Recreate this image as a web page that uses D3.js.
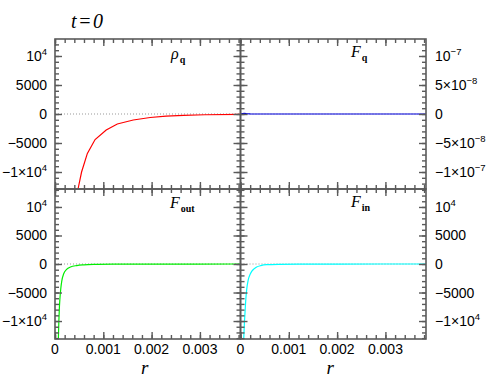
<!DOCTYPE html>
<html>
<head>
<meta charset="utf-8">
<script src="https://cdn.jsdelivr.net/npm/d3@7"></script>
<style>
body{margin:0;background:#fff}
svg text{font-family:"Liberation Sans",Arial,sans-serif;fill:#000}
</style>
</head>
<body>
<svg id="chart" width="503" height="383"></svg>
<script>
//ticks and labels
var xTicks = [0, 0.001, 0.002, 0.003];
var xTickLabels = ["0", "0.001", "0.002", "0.003"];
var yTicks = [-10000, -5000, 0, 5000, 10000];
var yTickLabels = ["\u22121\u00d710^4", "\u22125000", "0", "5000", "10^4"];
var fqTicks = [-1e-7, -5e-8, 0, 5e-8, 1e-7];
var fqTickLabels = ["\u22121\u00d710^\u22127", "\u22125\u00d710^\u22128", "0", "5\u00d710^\u22128", "10^\u22127"];

//profiles (r, value)
var rhoR = [0.00044, 0.00048, 0.00055, 0.00067, 0.00083, 0.00106, 0.00129, 0.00162, 0.00197, 0.0023, 0.00266, 0.0031, 0.00384];
var rhoV = [-16000, -12800, -10000, -6800, -4400, -2760, -1720, -1030, -600, -380, -230, -130, -50];
var fqR = [0, 0.00004, 0.00008, 0.00012, 0.0002, 0.0004, 0.001, 0.002, 0.00384];
var fqV = [0, 8e-10, 1e-9, 6e-10, 2e-10, 0, 0, 0, 0];
var foutR = [0.00006, 0.00007, 0.00008, 0.00009, 0.0001, 0.00012, 0.00014, 0.00018, 0.00024, 0.00032, 0.00045, 0.0006, 0.0008, 0.0012, 0.002, 0.00384];
var foutV = [-17000, -13000, -10000, -7800, -6300, -4300, -3000, -1700, -950, -520, -270, -150, -80, -35, -12, -3];
var finR = [0.00005, 0.00006, 0.00007, 0.00008, 0.000093, 0.00011, 0.000128, 0.000161, 0.0002, 0.000232, 0.00028, 0.000335, 0.00042, 0.000542, 0.0008, 0.0012, 0.002, 0.00384];
var finV = [-20000, -15000, -12500, -10500, -8600, -6200, -4500, -2760, -1800, -1300, -850, -530, -280, -120, -50, -20, -6, -2];

var svg = d3.select("#chart");
var L = 55, M = 240.5, R = 426, T = 39, H = 189, B = 339;
var xMax = 0.00384;
var frameCol = "#5a5a5a";

var panels = [
    {id: "rho", x0: L, x1: M, y0: T, y1: H, r: rhoR, v: rhoV, color: "#ff0000", dom: 12930, ticks: yTicks, labels: yTickLabels, minor: 1000, side: "left", curve: d3.curveLinear,
        name: "\u03c1", sub: "q", nx: 171, ny: 59},
    {id: "fq", x0: M, x1: R, y0: T, y1: H, r: fqR, v: fqV, color: "#0000dd", dom: 1.293e-7, ticks: fqTicks, labels: fqTickLabels, minor: 1e-8, side: "right", curve: d3.curveLinear,
        name: "F", sub: "q", nx: 351, ny: 57},
    {id: "fout", x0: L, x1: M, y0: H, y1: B, r: foutR, v: foutV, color: "#00ee00", dom: 13150, ticks: yTicks, labels: yTickLabels, minor: 1000, side: "left", curve: d3.curveMonotoneX,
        name: "F", sub: "out", nx: 170, ny: 208, bottom: true},
    {id: "fin", x0: M, x1: R, y0: H, y1: B, r: finR, v: finV, color: "#00ffff", dom: 13150, ticks: yTicks, labels: yTickLabels, minor: 1000, side: "right", curve: d3.curveMonotoneX,
        name: "F", sub: "in", nx: 351, ny: 207, bottom: true}
];

//text with ^superscript
function supText(g, str, x, y, anchor){
    var parts = str.split("^");
    var t = g.append("text")
        .attr("x", x).attr("y", y)
        .attr("text-anchor", anchor)
        .style("font-size", "14px");
    t.append("tspan").text(parts[0]);
    if(parts.length > 1){
        t.append("tspan").attr("dy", -6).style("font-size", "9.5px").text(parts[1]);
    }
    return t;
}

function minorTicks(a, b, step){
    var out = [];
    for(var k = Math.ceil(a/step); k*step <= b; k++){ out.push(k*step); }
    return out;
}

panels.forEach(function(p){
    var x = d3.scaleLinear().domain([0, xMax]).range([p.x0, p.x1]);
    var y = d3.scaleLinear().domain([-p.dom, p.dom]).range([p.y1, p.y0]);
    var g = svg.append("g").attr("class", "panel-" + p.id);

    g.append("clipPath").attr("id", "clip-" + p.id)
        .append("rect")
        .attr("x", p.x0).attr("y", p.y0)
        .attr("width", p.x1 - p.x0).attr("height", p.y1 - p.y0);

    //zero line
    g.append("line")
        .attr("x1", p.x0).attr("x2", p.x1)
        .attr("y1", y(0)).attr("y2", y(0))
        .style("stroke", "#999")
        .style("stroke-width", 1)
        .style("stroke-dasharray", "1,2");

    var pts = p.r.map(function(d, i){ return [d, p.v[i]]; });
    var line = d3.line()
        .x(function(d){ return x(d[0]); })
        .y(function(d){ return y(d[1]); })
        .curve(p.curve);
    g.append("path")
        .datum(pts)
        .attr("clip-path", "url(#clip-" + p.id + ")")
        .attr("d", line)
        .style("fill", "none")
        .style("stroke", p.color)
        .style("stroke-width", 1.2);

    //ticks on all four sides, pointing in
    var xMinor = minorTicks(0, xMax, 0.0002);
    var yMinor = minorTicks(-p.dom, p.dom, p.minor);
    var axes = [
        [d3.axisBottom(x), "translate(0," + p.y1 + ")", xTicks, xMinor],
        [d3.axisTop(x), "translate(0," + p.y0 + ")", xTicks, xMinor],
        [d3.axisLeft(y), "translate(" + p.x0 + ",0)", p.ticks, yMinor],
        [d3.axisRight(y), "translate(" + p.x1 + ",0)", p.ticks, yMinor]
    ];
    axes.forEach(function(a){
        var big = g.append("g").attr("transform", a[1])
            .call(a[0].tickValues(a[2]).tickSize(-7).tickFormat(""));
        var small = g.append("g").attr("transform", a[1])
            .call(a[0].tickValues(a[3]).tickSize(-4).tickFormat(""));
        [big, small].forEach(function(s){
            s.select(".domain").remove();
            s.selectAll("line").style("stroke", frameCol).style("stroke-width", 1.4);
        });
    });

    g.append("rect")
        .attr("x", p.x0).attr("y", p.y0)
        .attr("width", p.x1 - p.x0).attr("height", p.y1 - p.y0)
        .style("fill", "none")
        .style("stroke", frameCol)
        .style("stroke-width", 1.6);

    //tick labels
    p.ticks.forEach(function(t, i){
        if(p.side == "left"){
            supText(g, p.labels[i], p.x0 - 8, y(t) + 5, "end");
        } else {
            supText(g, p.labels[i], p.x1 + 9, y(t) + 5, "start");
        }
    });
    if(p.bottom){
        xTicks.forEach(function(t, i){
            g.append("text")
                .attr("x", x(t)).attr("y", p.y1 + 15)
                .attr("text-anchor", "middle")
                .style("font-size", "14px")
                .text(xTickLabels[i]);
        });
        g.append("text")
            .attr("x", (p.x0 + p.x1)/2 - 3).attr("y", 374)
            .attr("text-anchor", "middle")
            .style("font-family", "'Liberation Serif',serif")
            .style("font-style", "italic")
            .style("font-size", "19px")
            .text("r");
    }

    //panel name
    var nm = g.append("text")
        .attr("x", p.nx).attr("y", p.ny)
        .style("font-family", "'Liberation Serif',serif")
        .style("font-size", "16px");
    nm.append("tspan").style("font-style", "italic").text(p.name);
    nm.append("tspan").attr("dx", 1).attr("dy", 4)
        .style("font-size", "10px").style("font-weight", "bold")
        .text(p.sub);
});

svg.append("text")
    .attr("x", 71).attr("y", 28)
    .style("font-family", "'Liberation Serif',serif")
    .style("font-style", "italic")
    .style("font-size", "20px")
    .style("letter-spacing", "1.5px")
    .text("t=0");
</script>
</body>
</html>
